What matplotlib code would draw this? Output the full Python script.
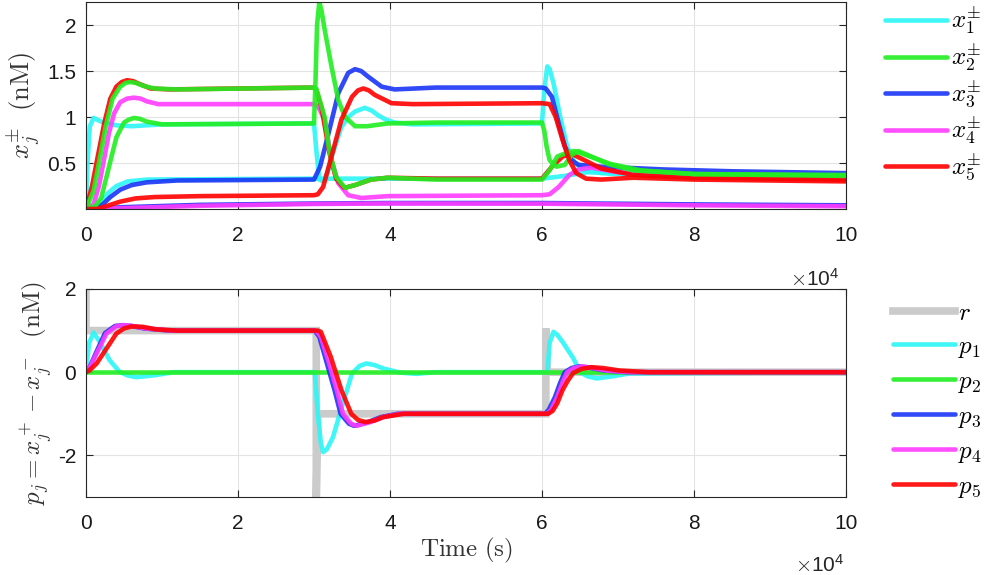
import matplotlib
matplotlib.use("Agg")
import matplotlib.pyplot as plt

plt.rcParams['font.family'] = ['Liberation Sans', 'DejaVu Sans']
plt.rcParams['mathtext.fontset'] = 'cm'

# time axis in units of 1e4 s
# ---- top panel: x_j^+ and x_j^- (nM) ----
x1_hi_t = [0, 0.02, 0.05, 0.1, 0.2, 0.4, 0.6, 1.0, 3.0, 3.03, 3.07, 3.12, 3.18, 3.23, 3.3, 3.36,
           3.45, 3.54, 3.67, 3.76, 3.84, 3.95, 4.06, 4.3, 6.0, 6.03, 6.07, 6.1, 6.15, 6.24, 6.33,
           6.43, 6.56, 6.78, 7.0, 8.0, 10.0]
x1_hi = [0, 0.5, 0.9, 0.99, 0.95, 0.91, 0.90, 0.92, 0.93, 0.64, 0.32, 0.30, 0.40, 0.56, 0.74, 0.89,
         1.0, 1.06, 1.10, 1.07, 1.02, 0.97, 0.94, 0.92, 0.93, 1.30, 1.55, 1.52, 1.37, 1.00, 0.68,
         0.50, 0.42, 0.39, 0.38, 0.37, 0.36]
x1_lo_t = [0, 0.1, 0.2, 0.3, 0.4, 0.55, 0.8, 3.0, 6.0, 6.3, 6.6, 7.0, 8.0, 10.0]
x1_lo = [0, 0.01, 0.08, 0.18, 0.25, 0.30, 0.32, 0.33, 0.33, 0.36, 0.40, 0.39, 0.37, 0.36]

x2_hi_t = [0, 0.1, 0.17, 0.26, 0.35, 0.45, 0.52, 0.58, 0.66, 0.75, 0.9, 1.2, 3.0, 3.03, 3.14, 3.2,
           3.29, 3.41, 3.54, 3.75, 3.97, 4.6, 6.0, 6.1, 6.2, 6.35, 6.43, 6.6, 6.9, 7.3, 8.0, 10.0]
x2_hi = [0, 0.2, 0.5, 0.9, 1.2, 1.33, 1.37, 1.38, 1.37, 1.34, 1.31, 1.30, 1.32, 1.31, 1.0, 0.64,
         0.35, 0.23, 0.26, 0.32, 0.34, 0.32, 0.32, 0.42, 0.57, 0.62, 0.63, 0.58, 0.49, 0.42, 0.38,
         0.36]
x2_lo_t = [0, 0.12, 0.2, 0.27, 0.33, 0.4, 0.5, 0.56, 0.63, 0.71, 0.8, 1.0, 3.0, 3.02, 3.04, 3.07,
           3.1, 3.14, 3.23, 3.32, 3.41, 3.54, 3.7, 3.97, 4.6, 6.0, 6.03, 6.06, 6.1, 6.19, 6.3, 6.39,
           6.48, 6.65, 6.87, 7.2, 8.0, 10.0]
x2_lo = [0, 0.03, 0.12, 0.35, 0.55, 0.78, 0.94, 0.97, 0.99, 0.98, 0.95, 0.92, 0.93, 1.4, 2.0, 2.25,
         2.15, 1.95, 1.55, 1.18, 1.0, 0.9, 0.9, 0.93, 0.94, 0.94, 0.85, 0.68, 0.53, 0.46, 0.48,
         0.59, 0.63, 0.57, 0.49, 0.42, 0.38, 0.37]

x3_hi_t = [0, 0.12, 0.22, 0.32, 0.45, 0.6, 0.8, 1.2, 3.0, 3.08, 3.19, 3.32, 3.45, 3.54, 3.62, 3.71,
           3.89, 4.06, 4.6, 6.0, 6.05, 6.13, 6.22, 6.3, 6.39, 6.48, 6.78, 7.6, 8.5, 10.0]
x3_hi = [0, 0.0, 0.05, 0.13, 0.21, 0.26, 0.29, 0.31, 0.32, 0.46, 0.82, 1.26, 1.48, 1.52, 1.50, 1.44,
         1.33, 1.30, 1.32, 1.32, 1.31, 1.22, 0.93, 0.68, 0.53, 0.48, 0.46, 0.43, 0.41, 0.39]
x3_lo_t = [0, 0.5, 1.5, 3.0, 4.0, 6.0, 8.0, 10.0]
x3_lo = [0, 0.02, 0.045, 0.06, 0.065, 0.065, 0.05, 0.04]

x4_hi_t = [0, 0.1, 0.17, 0.24, 0.3, 0.37, 0.45, 0.54, 0.63, 0.72, 0.8, 0.95, 3.0, 3.05, 3.14, 3.23,
           3.32, 3.45, 3.62, 3.97, 6.0, 6.1, 6.22, 6.36, 6.48, 6.65, 7.0, 8.0, 10.0]
x4_hi = [0, 0.05, 0.25, 0.55, 0.82, 1.04, 1.16, 1.20, 1.21, 1.20, 1.17, 1.14, 1.14, 1.12, 0.97,
         0.53, 0.28, 0.15, 0.12, 0.14, 0.15, 0.16, 0.24, 0.37, 0.43, 0.45, 0.40, 0.36, 0.33]
x4_lo_t = [0, 0.5, 1.5, 3.0, 4.0, 6.0, 8.0, 10.0]
x4_lo = [0, 0.01, 0.035, 0.055, 0.06, 0.058, 0.04, 0.03]

x5_hi_t = [0, 0.08, 0.15, 0.24, 0.32, 0.4, 0.47, 0.54, 0.62, 0.7, 0.85, 1.1, 2.0, 3.0, 3.03, 3.1,
           3.2, 3.29, 3.4, 3.54, 3.75, 3.97, 4.6, 6.0, 6.13, 6.27, 6.39, 6.56, 6.78, 7.2, 8.0, 10.0]
x5_hi = [0, 0.25, 0.55, 0.93, 1.2, 1.33, 1.38, 1.40, 1.39, 1.36, 1.31, 1.30, 1.31, 1.32, 1.29, 1.1,
         0.62, 0.33, 0.23, 0.26, 0.32, 0.34, 0.33, 0.33, 0.46, 0.57, 0.60, 0.53, 0.44, 0.37, 0.34,
         0.32]
x5_lo_t = [0, 0.15, 0.3, 0.45, 0.65, 0.9, 1.5, 3.0, 3.05, 3.12, 3.23, 3.36, 3.5, 3.58, 3.65, 3.72,
           3.8, 4.02, 4.3, 6.0, 6.1, 6.18, 6.27, 6.36, 6.45, 6.58, 6.78, 7.2, 8.0, 10.0]
x5_lo = [0, 0.0, 0.04, 0.08, 0.115, 0.13, 0.14, 0.15, 0.16, 0.24, 0.57, 0.97, 1.22, 1.29, 1.31,
         1.29, 1.24, 1.15, 1.14, 1.15, 1.14, 1.0, 0.75, 0.53, 0.39, 0.33, 0.32, 0.34, 0.32, 0.30]

# ---- bottom panel: reference r and p_j = x_j^+ - x_j^- ----
r_t = [0, 0, 3.03, 3.03, 3.05, 6.05, 6.05, 6.07, 10]
r_v = [2, 1, 1, -3, -1, -1, 1.05, 0, 0]

p1_t = [0, 0.04, 0.1, 0.18, 0.31, 0.44, 0.55, 0.66, 0.92, 1.15, 3.01, 3.05, 3.09, 3.12, 3.17, 3.25,
        3.38, 3.5, 3.6, 3.69, 3.8, 3.91, 4.13, 4.35, 4.6, 6.07, 6.1, 6.15, 6.2, 6.27, 6.41, 6.5,
        6.6, 6.72, 6.93, 7.15, 10]
p1 = [0, 0.7, 0.95, 0.73, 0.29, 0.01, -0.08, -0.12, -0.07, 0, 0, -1.0, -1.7, -1.92, -1.85, -1.56,
      -0.75, -0.03, 0.15, 0.21, 0.17, 0.09, -0.01, -0.04, 0, 0, 0.7, 0.97, 0.9, 0.73, 0.34, 0.0,
      -0.1, -0.15, -0.1, -0.03, 0]

p2_t = [0, 10]
p2 = [0, 0]

p3_t = [0, 0.05, 0.13, 0.25, 0.38, 0.48, 0.6, 0.77, 1.1, 3.0, 3.02, 3.07, 3.17, 3.27, 3.35, 3.46,
        3.53, 3.71, 3.88, 4.1, 4.5, 6.04, 6.09, 6.17, 6.24, 6.3, 6.39, 6.49, 6.62, 6.82, 7.12, 10]
p3 = [0, 0.13, 0.46, 0.94, 1.11, 1.13, 1.11, 1.05, 1.0, 1.0, 0.97, 0.85, 0.21, -0.43, -1.0, -1.24,
      -1.29, -1.2, -1.08, -1.0, -1.0, -1.0, -0.9, -0.6, -0.25, 0.0, 0.1, 0.14, 0.11, 0.04, 0, 0]

p4_t = [0, 0.05, 0.14, 0.27, 0.4, 0.5, 0.62, 0.79, 1.14, 3.0, 3.04, 3.09, 3.2, 3.3, 3.38, 3.49,
        3.56, 3.74, 3.91, 4.13, 4.5, 6.07, 6.12, 6.2, 6.27, 6.33, 6.42, 6.52, 6.65, 6.85, 7.15, 10]
p4 = [0, 0.12, 0.45, 0.93, 1.11, 1.13, 1.11, 1.05, 1.0, 1.0, 0.97, 0.85, 0.21, -0.43, -1.0, -1.24,
      -1.29, -1.2, -1.08, -1.0, -1.0, -1.0, -0.9, -0.6, -0.25, 0.0, 0.1, 0.14, 0.11, 0.04, 0, 0]

p5_t = [0, 0.05, 0.14, 0.27, 0.4, 0.5, 0.6, 0.75, 0.92, 1.2, 3.0, 3.05, 3.09, 3.22, 3.36, 3.49,
        3.58, 3.68, 3.8, 3.91, 4.18, 4.5, 6.08, 6.14, 6.2, 6.27, 6.34, 6.41, 6.52, 6.65, 6.8, 7.02,
        7.4, 10]
p5 = [0, 0.05, 0.21, 0.57, 0.93, 1.05, 1.1, 1.09, 1.03, 1.0, 1.0, 1.0, 0.97, 0.37, -0.43, -1.0,
      -1.15, -1.2, -1.16, -1.08, -1.0, -1.0, -1.0, -0.93, -0.75, -0.43, -0.2, -0.02, 0.08, 0.12,
      0.1, 0.04, 0, 0]

xticks = [0, 2, 4, 6, 8, 10]
top_yticks = [0.5, 1, 1.5, 2]
top_yticklabels = ['0.5', '1', '1.5', '2']
bot_yticks = [-2, 0, 2]

cyan = '#2cf6f6'
green = '#22ee22'
blue = '#1a35f5'
magenta = '#ff3cff'
red = '#ff0000'
grey = '#cbcbcb'
lw = 3.3

fig = plt.figure(figsize=(9.84, 5.75), dpi=100)
ax1 = fig.add_axes([0.0874, 0.6365, 0.7724, 0.36])
ax2 = fig.add_axes([0.0874, 0.1357, 0.7724, 0.3617])

kw = dict(lw=lw, solid_joinstyle='round', solid_capstyle='round', alpha=0.9)
l1, = ax1.plot(x1_hi_t, x1_hi, color=cyan, **kw)
ax1.plot(x1_lo_t, x1_lo, color=cyan, **kw)
l3, = ax1.plot(x3_hi_t, x3_hi, color=blue, **kw)
ax1.plot(x3_lo_t, x3_lo, color=blue, **kw)
l4, = ax1.plot(x4_hi_t, x4_hi, color=magenta, **kw)
ax1.plot(x4_lo_t, x4_lo, color=magenta, **kw)
l5, = ax1.plot(x5_hi_t, x5_hi, color=red, **kw)
l2, = ax1.plot(x2_hi_t, x2_hi, color=green, **kw)
ax1.plot(x2_lo_t, x2_lo, color=green, **kw)
ax1.plot(x5_lo_t, x5_lo, color=red, **kw)

ax1.legend([l1, l2, l3, l4, l5],
           [r'$x_1^{\pm}$', r'$x_2^{\pm}$', r'$x_3^{\pm}$', r'$x_4^{\pm}$', r'$x_5^{\pm}$'],
           loc='upper left', bbox_to_anchor=(0.889, 1.0085), bbox_transform=fig.transFigure,
           frameon=False, fontsize=18, handlelength=2.48, handletextpad=0.15, labelspacing=0.19,
           borderaxespad=0)

lr, = ax2.plot(r_t, r_v, color=grey, lw=5.5, solid_joinstyle='miter')
lp1, = ax2.plot(p1_t, p1, color=cyan, **kw)
lp2, = ax2.plot(p2_t, p2, color=green, **kw)
lp3, = ax2.plot(p3_t, p3, color=blue, **kw)
lp4, = ax2.plot(p4_t, p4, color=magenta, **kw)
lp5, = ax2.plot(p5_t, p5, color=red, **kw)

ax2.legend([lr, lp1, lp2, lp3, lp4, lp5],
           [r'$r$', r'$p_1$', r'$p_2$', r'$p_3$', r'$p_4$', r'$p_5$'],
           loc='upper left', bbox_to_anchor=(0.897, 0.4945), bbox_transform=fig.transFigure,
           frameon=False, fontsize=18, handlelength=2.48, handletextpad=0.15, labelspacing=0.36,
           borderaxespad=0)

for ax in (ax1, ax2):
    ax.set_xlim(0, 10)
    ax.set_xticks(xticks)
    ax.set_xticklabels([str(v) for v in xticks])
    ax.grid(True, color='#e3e3e3', lw=0.8)
    ax.set_axisbelow(True)
    ax.tick_params(direction='in', top=True, right=True, length=5, width=0.8,
                   labelsize=15, colors='#262626', labelcolor='#1a1a1a')
    ax.tick_params(axis='x', pad=12)
    ax.tick_params(axis='y', pad=7)
    for s in ax.spines.values():
        s.set_color('#262626')
        s.set_linewidth(0.8)

ax1.set_ylim(0, 2.25)
ax1.set_yticks(top_yticks)
ax1.set_yticklabels(top_yticklabels)
ax2.set_ylim(-3, 2)
ax2.set_yticks(bot_yticks)
ax2.set_yticklabels([str(v) for v in bot_yticks])

ax1.set_ylabel(r'$x_j^{\pm}\ \ \mathrm{(nM)}$', fontsize=19, color='#333333', labelpad=3)
ax2.set_ylabel(r'$p_j = x_j^+ - x_j^-\ \ \mathrm{(nM)}$', fontsize=18, color='#333333', labelpad=3)
ax2.set_xlabel(r'$\mathrm{Time\ (s)}$', fontsize=18, color='#333333', labelpad=2)

fig.text(0.803, 0.503, r'$\times\mathdefault{10^{4}}$', fontsize=15, color='#262626')
fig.text(0.808, 0.005, r'$\times\mathdefault{10^{4}}$', fontsize=15, color='#262626')

fig.savefig('out.png', dpi=100)
